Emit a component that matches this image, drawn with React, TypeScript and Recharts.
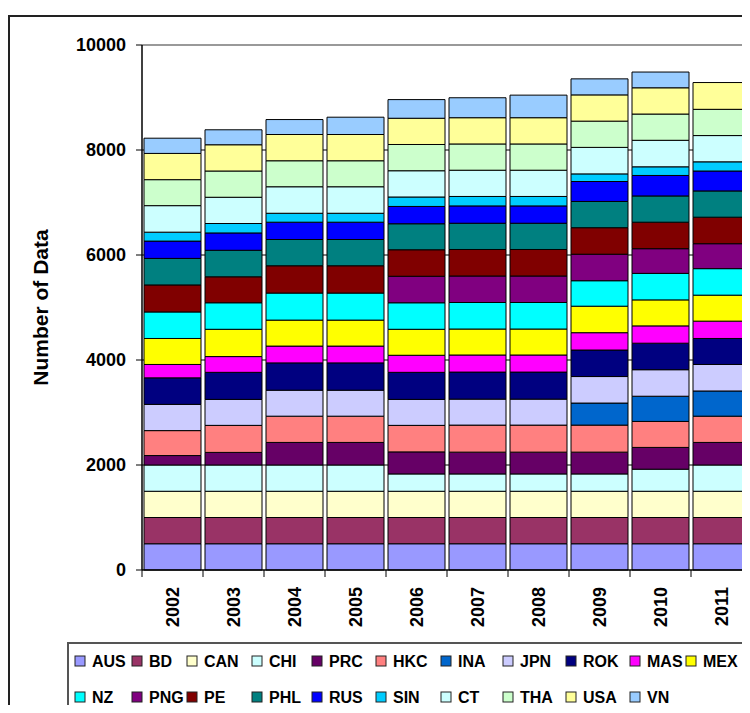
import React from 'react';
import { BarChart, Bar, XAxis, YAxis, CartesianGrid, ReferenceLine } from 'recharts';

const years = ['2002', '2003', '2004', '2005', '2006', '2007', '2008', '2009', '2010', '2011'];

const AUS = [500, 500, 500, 500, 500, 500, 500, 500, 500, 500];
const BD = [500, 500, 500, 500, 500, 500, 500, 500, 500, 500];
const CAN = [500, 500, 500, 500, 500, 500, 500, 500, 500, 500];
const CHI = [500, 500, 500, 500, 330, 330, 330, 330, 420, 500];
const PRC = [180, 240, 430, 430, 420, 415, 415, 415, 415, 430];
const HKC = [475, 515, 500, 500, 505, 515, 515, 515, 495, 500];
const INA = [0, 0, 0, 0, 0, 0, 0, 420, 480, 480];
const JPN = [500, 495, 495, 495, 495, 495, 495, 505, 505, 505];
const ROK = [505, 515, 520, 520, 515, 515, 515, 505, 505, 495];
const MAS = [255, 300, 320, 320, 325, 325, 325, 330, 330, 330];
const MEX = [495, 520, 495, 495, 495, 495, 495, 505, 495, 495];
const NZ = [505, 505, 515, 515, 505, 505, 505, 485, 505, 505];
const PNG = [0, 0, 0, 0, 505, 505, 505, 505, 470, 475];
const PE = [515, 495, 520, 520, 505, 505, 505, 505, 505, 505];
const PHL = [505, 505, 500, 500, 495, 500, 500, 500, 500, 500];
const RUS = [330, 330, 330, 330, 330, 330, 330, 380, 390, 380];
const SIN = [170, 180, 170, 170, 180, 180, 180, 145, 165, 175];
const CT = [505, 500, 505, 505, 500, 500, 500, 505, 505, 500];
const THA = [495, 500, 495, 495, 500, 500, 500, 500, 500, 500];
const USA = [500, 500, 500, 500, 500, 500, 500, 500, 500, 510];
const VN = [290, 285, 285, 330, 355, 380, 430, 305, 300, 0];

const seriesNames = ['AUS', 'BD', 'CAN', 'CHI', 'PRC', 'HKC', 'INA', 'JPN', 'ROK', 'MAS', 'MEX',
  'NZ', 'PNG', 'PE', 'PHL', 'RUS', 'SIN', 'CT', 'THA', 'USA', 'VN'];
const seriesValues = [AUS, BD, CAN, CHI, PRC, HKC, INA, JPN, ROK, MAS, MEX,
  NZ, PNG, PE, PHL, RUS, SIN, CT, THA, USA, VN];
const seriesColors = ['#9999FF', '#993366', '#FFFFCC', '#CCFFFF', '#660066', '#FF8080', '#0066CC',
  '#CCCCFF', '#000080', '#FF00FF', '#FFFF00', '#00FFFF', '#800080', '#800000', '#008080',
  '#0000FF', '#00CCFF', '#CCFFFF', '#CCFFCC', '#FFFF99', '#99CCFF'];

const yTicks = [0, 2000, 4000, 6000, 8000, 10000];

const rows = years.map((y, i) => {
  const r: Record<string, any> = { year: y };
  seriesNames.forEach((n, j) => {
    r[n] = seriesValues[j][i];
  });
  return r;
});

const FONT = '"Liberation Sans", Arial, sans-serif';
const PLOT_LEFT = 142;
const PLOT_WIDTH = 610;
const BAND = PLOT_WIDTH / years.length;

const XTick = (props: any) => {
  const { x, y, payload, index } = props;
  const half = BAND / 2;
  return (
    <g>
      <line x1={x - half} y1={y} x2={x - half} y2={y + 7} stroke="#000" strokeWidth={1} />
      {index === years.length - 1 && (
        <line x1={x + half} y1={y} x2={x + half} y2={y + 7} stroke="#000" strokeWidth={1} />
      )}
      <text
        transform={`translate(${x},${y + 17}) rotate(-90)`}
        textAnchor="end"
        dy="0.36em"
        fontFamily={FONT}
        fontWeight="bold"
        fontSize={18}
        fill="#000"
      >
        {payload.value}
      </text>
    </g>
  );
};

const legendCols = [75, 132, 187, 252, 312, 376, 441, 503, 566, 630, 686];
const legendRows = [661, 697];

export default function App() {
  return (
    <div style={{ position: 'relative', width: 750, height: 713, margin: -8, overflow: 'hidden', background: '#fff' }}>
      <div style={{ position: 'absolute', left: 8, top: 15, width: 800, height: 800, border: '2px solid #222', boxSizing: 'border-box' }} />
      <svg style={{ position: 'absolute', left: 0, top: 0 }} width={750} height={20}>
        <text x={262} y={6} textAnchor="middle" fontFamily='"Liberation Serif", "Times New Roman", serif' fontWeight="bold" fontSize={18} fill="#000">
          from 2002 to 2011
        </text>
      </svg>
      <div style={{ position: 'absolute', left: 0, top: 0 }}>
        <BarChart
          width={PLOT_LEFT + PLOT_WIDTH + 8}
          height={713}
          data={rows}
          margin={{ top: 45, right: 8, bottom: 73, left: 0 }}
          barSize={57}
        >
          <CartesianGrid vertical={false} horizontalValues={[2000, 4000, 6000, 8000]} stroke="#000" strokeWidth={1} />
          <XAxis
            dataKey="year"
            height={70}
            axisLine={{ stroke: '#000', strokeWidth: 1.5 }}
            tickLine={false}
            tickSize={0}
            tickMargin={0}
            interval={0}
            tick={<XTick />}
          />
          <YAxis
            width={PLOT_LEFT}
            domain={[0, 10000]}
            ticks={yTicks}
            interval={0}
            axisLine={{ stroke: '#000', strokeWidth: 1.5 }}
            tickLine={{ stroke: '#000' }}
            tickSize={6}
            tickMargin={10}
            tick={{ fontFamily: FONT, fontWeight: 'bold', fontSize: 18, fill: '#000' }}
            label={(p: any) => {
              const vb = p.viewBox || { y: 45, height: 525 };
              const cy = vb.y + vb.height / 2;
              return (
                <text
                  transform={`translate(40,${cy}) rotate(-90)`}
                  textAnchor="middle"
                  dy="0.36em"
                  fontFamily={FONT}
                  fontWeight="bold"
                  fontSize={21}
                  fill="#000"
                >
                  Number of Data
                </text>
              );
            }}
          />
          <ReferenceLine y={10000} stroke="#999" strokeWidth={2} />
          {seriesNames.map((n, j) => (
            <Bar
              key={n}
              dataKey={n}
              stackId="a"
              fill={seriesColors[j]}
              stroke="#000"
              strokeWidth={1}
              isAnimationActive={false}
            />
          ))}
        </BarChart>
      </div>
      <div style={{ position: 'absolute', left: 67, top: 642, width: 800, height: 200, border: '2px solid #555', boxSizing: 'border-box' }} />
      <svg style={{ position: 'absolute', left: 0, top: 0 }} width={750} height={713}>
        {seriesNames.map((n, j) => {
          const row = j < 11 ? 0 : 1;
          const col = j < 11 ? j : j - 11;
          const mx = legendCols[col];
          const cy = legendRows[row];
          return (
            <g key={n}>
              <rect x={mx} y={cy - 5} width={10} height={10} fill={seriesColors[j]} stroke="#222" strokeWidth={1} />
              <text x={mx + 17} y={cy} dy="0.36em" fontFamily={FONT} fontWeight="bold" fontSize={16} fill="#000">
                {n}
              </text>
            </g>
          );
        })}
      </svg>
    </div>
  );
}
